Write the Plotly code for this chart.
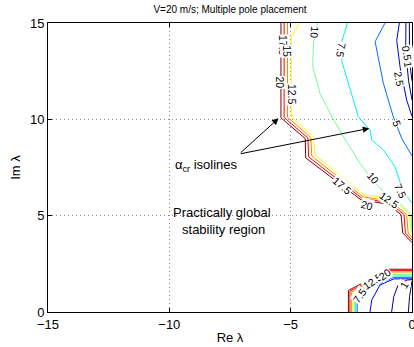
import plotly.graph_objects as go

# ---------------- data ----------------
levels = [0.5, 1, 2.5, 5, 7.5, 10, 12.5, 15, 17.5, 20]

x_ticks = [-15, -10, -5, 0]
x_tick_labels = ["\u221215", "\u221210", "\u22125", "0"]
y_ticks = [0, 5, 10, 15]
y_tick_labels = ["0", "5", "10", "15"]

# isoline paths (Re, Im); None separates segments
iso_20_x = [-5.40, -5.40, -4.40, -4.38, -2.10, -1.00, -0.45, -0.38, 0.00, None, -2.62, -2.62, -0.95, 0.00]
iso_20_y = [15.0, 10.08, 9.00, 8.00, 5.82, 5.60, 5.05, 4.10, 3.60, None, 0.00, 1.12, 2.22, 2.22]
iso_17_5_x = [-5.27, -5.27, -4.29, -4.26, -2.06, -0.95, -0.33, -0.27, 0.00, None, -2.56, -2.56, -0.92, 0.00]
iso_17_5_y = [15.0, 10.10, 9.03, 8.05, 5.90, 5.68, 5.06, 4.10, 3.72, None, 0.00, 1.08, 2.15, 2.15]
iso_15_x = [-5.13, -5.13, -4.17, -4.13, -2.02, -0.90, -0.22, -0.16, 0.00, None, -2.50, -2.50, -0.89, 0.00]
iso_15_y = [15.0, 10.11, 9.06, 8.10, 5.98, 5.76, 5.07, 4.10, 3.86, None, 0.00, 1.04, 2.08, 2.08]
iso_12_5_x = [-4.62, -4.97, -4.97, -4.06, -4.00, -1.98, -1.30, -0.82, -0.10, -0.06, 0.00, None, -2.44, -2.44, -0.86, 0.00]
iso_12_5_y = [15.0, 14.30, 10.13, 9.10, 8.15, 6.08, 5.98, 5.84, 5.08, 4.10, 4.00, None, 0.00, 1.00, 2.01, 2.01]
iso_10_x = [-3.90, -4.06, -4.09, -3.79, -3.30, -2.75, -2.14, -1.73, -1.32, -0.56, -0.04, -0.02, 0.00, None, -2.38, -2.38, -0.83, 0.00]
iso_10_y = [15.0, 13.94, 12.73, 11.35, 10.13, 8.95, 7.72, 7.02, 6.42, 5.72, 5.05, 4.30, 4.15, None, 0.00, 0.96, 1.94, 1.94]
iso_7_5_x = [-2.66, -2.88, -2.89, -2.62, -2.21, -1.73, -1.66, -1.18, -0.70, -0.45, -0.20, 0.00, None, -2.32, -2.32, -0.80, 0.00]
iso_7_5_y = [15.0, 14.10, 13.00, 11.87, 10.13, 9.44, 8.93, 8.41, 7.54, 6.60, 6.00, 5.65, None, 0.00, 0.92, 1.87, 1.87]
iso_5_x = [-1.11, -1.52, -1.18, -0.77, -0.42, -0.15, 0.00, None, -2.26, -2.26, -0.77, 0.00]
iso_5_y = [15.0, 14.03, 11.87, 10.13, 9.00, 8.40, 8.10, None, 0.00, 0.88, 1.80, 1.80]
iso_2_5_x = [-0.52, -0.63, -0.49, -0.22, 0.00, None, -1.73, -1.66, -1.32, -0.75, 0.00]
iso_2_5_y = [15.0, 14.10, 12.70, 11.00, 10.15, None, 0.00, 0.62, 1.40, 1.72, 1.72]
iso_1_x = [-0.25, -0.26, -0.14, 0.00, None, -0.84, -0.75, -0.56, -0.20, 0.00]
iso_1_y = [15.0, 13.50, 12.00, 11.00, None, 0.00, 0.80, 1.45, 1.66, 1.68]
iso_0_5_x = [-0.11, -0.10, 0.00, None, -0.15, -0.10, 0.00]
iso_0_5_y = [15.0, 13.00, 12.00, None, 0.00, 0.80, 1.60]

iso_x = [iso_0_5_x, iso_1_x, iso_2_5_x, iso_5_x, iso_7_5_x, iso_10_x, iso_12_5_x, iso_15_x, iso_17_5_x, iso_20_x]
iso_y = [iso_0_5_y, iso_1_y, iso_2_5_y, iso_5_y, iso_7_5_y, iso_10_y, iso_12_5_y, iso_15_y, iso_17_5_y, iso_20_y]

# contour label texts and where they sit (Re, Im)
label_text = ["20", "12.5", "17.5", "15", "10", "7.5", "5", "2.5", "0.5", "1",
              "10", "7.5", "15", "17.5", "20", "12.5",
              "7.5", "12.5", "20", "1"]
label_x = [-5.43, -4.97, -5.31, -5.16, -3.99, -2.92, -0.63, -0.52, -0.20, -0.17,
           -1.60, -0.47, -3.00, -2.85, -1.87, -0.93,
           -2.18, -1.62, -1.10, -0.33]
label_y = [11.90, 11.30, 13.85, 13.55, 14.50, 13.60, 9.80, 12.10, 13.45, 12.85,
           6.95, 6.28, 6.72, 6.55, 5.55, 5.82,
           0.85, 1.62, 1.95, 1.40]

# ---------------- styling ----------------
jet_colors = ["#000080", "#00009a", "#0000e8", "#006cff", "#00efff",
              "#73ff8c", "#f5ff0a", "#ff8600", "#ff0300", "#800000"]
label_angles = [90, 90, 90, 90, 95, 100, 70, 80, 80, 80,
                50, 65, 40, 40, 15, 35,
                -55, -35, -35, -60]
FONT = "Liberation Sans, Arial, Helvetica, sans-serif"

fig = go.Figure()
for lev, xs, ys, col in zip(levels, iso_x, iso_y, jet_colors):
    fig.add_trace(go.Scatter(x=xs, y=ys, mode="lines", line=dict(color=col, width=1),
                             name=str(lev), showlegend=False, hoverinfo="skip",
                             connectgaps=False))

annotations = []
for t, lx, ly, ang in zip(label_text, label_x, label_y, label_angles):
    annotations.append(dict(x=lx, y=ly, xref="x", yref="y", text=t, showarrow=False,
                            textangle=ang, font=dict(family=FONT, size=10.5, color="black"),
                            bgcolor="white", borderpad=0))

# arrows from the "alpha_cr isolines" note
arrow_tail = (-7.12, 8.20)
arrow_heads = [(-5.50, 10.05), (-1.76, 9.53)]
for hx, hy in arrow_heads:
    annotations.append(dict(x=hx, y=hy, ax=arrow_tail[0], ay=arrow_tail[1],
                            xref="x", yref="y", axref="x", ayref="y", text="",
                            showarrow=True, arrowhead=2, arrowsize=1.3, arrowwidth=1,
                            arrowcolor="black", standoff=0, startstandoff=0))

annotations.append(dict(x=-8.47, y=7.63, xref="x", yref="y",
                        text="\u03b1<sub>cr</sub> isolines", showarrow=False,
                        font=dict(family=FONT, size=13, color="black")))
annotations.append(dict(x=-7.82, y=4.72, xref="x", yref="y",
                        text="Practically global<br> stability region", showarrow=False,
                        font=dict(family=FONT, size=13, color="black")))

axis_common = dict(showline=True, linecolor="black", linewidth=1, mirror="ticks",
                   ticks="inside", ticklen=4, tickcolor="black", tickwidth=1,
                   showgrid=True, gridcolor="#8c8c8c", gridwidth=1, griddash="1px,3px",
                   zeroline=False, ticklabeloverflow="allow", automargin=False,
                   tickfont=dict(family=FONT, size=13, color="black"))

fig.update_layout(
    width=414, height=347,
    margin=dict(l=48, r=2, t=23, b=35, autoexpand=False),
    paper_bgcolor="white", plot_bgcolor="white",
    title=dict(text="V=20 m/s; Multiple pole placement", x=0.5, xref="paper",
               y=1 - 9 / 347, yref="container", yanchor="middle", xanchor="center",
               font=dict(family=FONT, size=10, color="black")),
    xaxis=dict(range=[-15, 0], tickvals=x_ticks, ticktext=x_tick_labels,
               title=dict(text="Re \u03bb", font=dict(family=FONT, size=13, color="black"), standoff=2),
               **axis_common),
    yaxis=dict(range=[0, 15], tickvals=y_ticks, ticktext=y_tick_labels,
               title=dict(text="Im \u03bb", font=dict(family=FONT, size=13, color="black"), standoff=6),
               **axis_common),
    annotations=annotations,
    showlegend=False,
)

fig.write_html("out.html", config={"displayModeBar": False},
               post_script="document.body.style.margin='0px';")
